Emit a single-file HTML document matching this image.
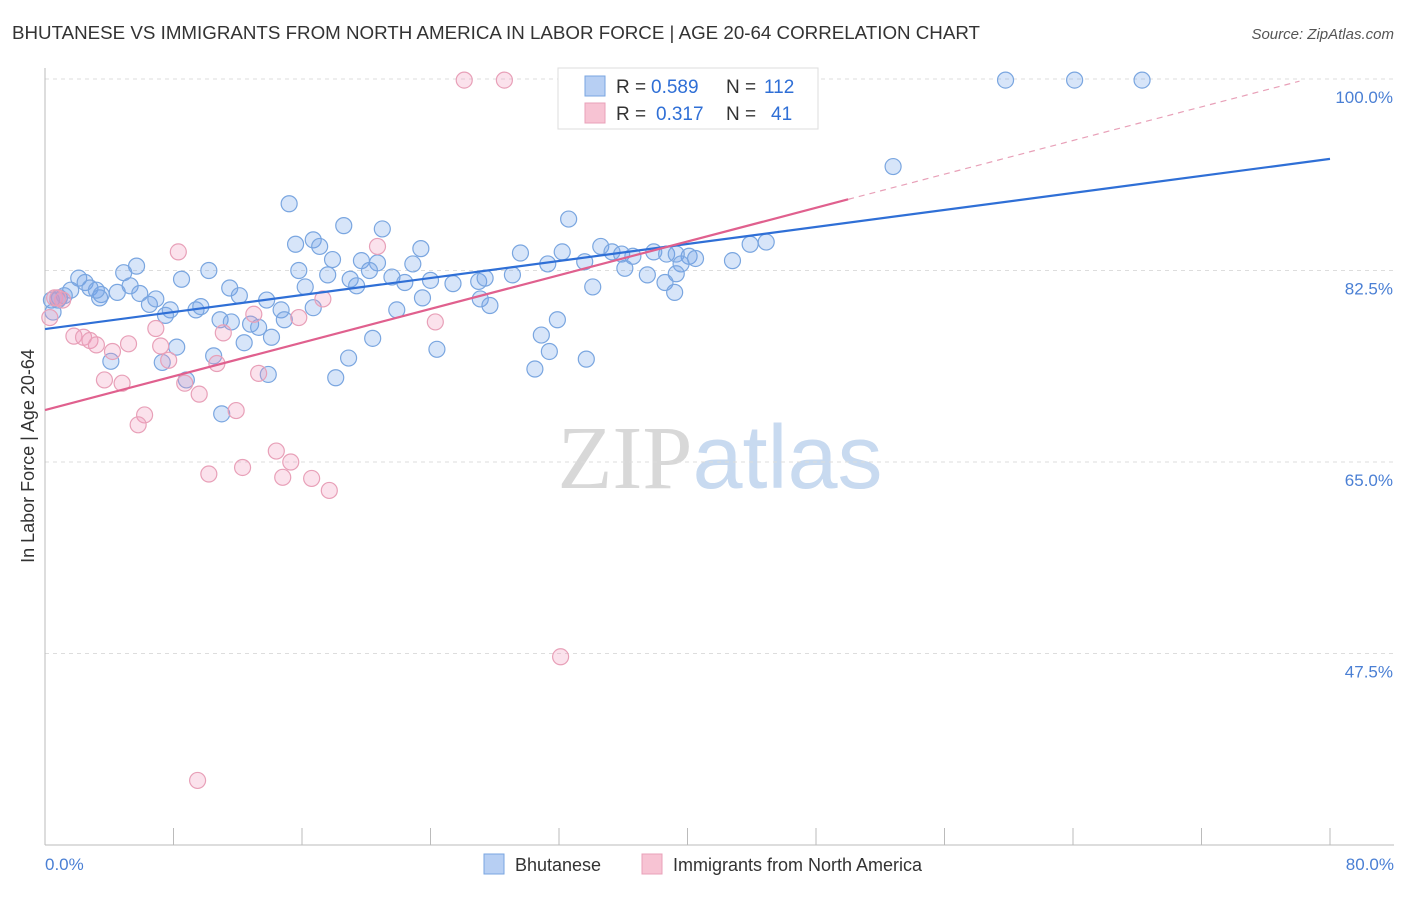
<!DOCTYPE html>
<html><head><meta charset="utf-8">
<style>
body{margin:0;background:#fff;font-family:"Liberation Sans",sans-serif;}
svg text{font-family:"Liberation Sans",sans-serif;}
</style></head>
<body>
<svg id="chart" width="1406" height="892" xmlns="http://www.w3.org/2000/svg">
<text x="12" y="39" font-size="18" fill="#333" textLength="968" lengthAdjust="spacingAndGlyphs">BHUTANESE VS IMMIGRANTS FROM NORTH AMERICA IN LABOR FORCE | AGE 20-64 CORRELATION CHART</text>
<text x="1394" y="39" font-size="15" fill="#555" text-anchor="end" font-style="italic">Source: ZipAtlas.com</text>
<text x="720" y="488" font-size="90" text-anchor="middle"><tspan fill="#d8d8d8" font-family="Liberation Serif">ZIP</tspan><tspan fill="#c8daf0">atlas</tspan></text>
<g id="grid"></g>
<g id="axes"></g>
<g id="marks"></g>
<g id="lines"></g>
<text transform="translate(34,456) rotate(-90)" font-size="18" fill="#333" text-anchor="middle">In Labor Force | Age 20-64</text>
<text x="45" y="870" font-size="17" fill="#4a7fd4">0.0%</text>
<text x="1394" y="870" font-size="17" fill="#4a7fd4" text-anchor="end">80.0%</text>
<g>
<rect x="558" y="68" width="260" height="61" fill="#fff" stroke="#ddd"/>
<rect x="585" y="76" width="20" height="20" fill="#b7cff3" stroke="#7aa6e0"/>
<rect x="585" y="103" width="20" height="20" fill="#f7c3d3" stroke="#e8a0b8"/>
<text x="616" y="93" font-size="19" fill="#333">R =</text>
<text x="651" y="93" font-size="19" fill="#2f6fd6">0.589</text>
<text x="726" y="93" font-size="19" fill="#333">N =</text>
<text x="764" y="93" font-size="19" fill="#2f6fd6">112</text>
<text x="616" y="120" font-size="19" fill="#333">R =</text>
<text x="656" y="120" font-size="19" fill="#2f6fd6">0.317</text>
<text x="726" y="120" font-size="19" fill="#333">N =</text>
<text x="771" y="120" font-size="19" fill="#2f6fd6">41</text>
</g>
<g>
<rect x="484" y="854" width="20" height="20" fill="#b7cff3" stroke="#7aa6e0"/>
<text x="515" y="871" font-size="18" fill="#333">Bhutanese</text>
<rect x="642" y="854" width="20" height="20" fill="#f7c3d3" stroke="#e8a0b8"/>
<text x="673" y="871" font-size="18" fill="#333">Immigrants from North America</text>
</g>
</svg>
<script>
const yTicks=[100,82.5,65,47.5];
const yTickLabels=["100.0%","82.5%","65.0%","47.5%"];
const blueData=[[59.8,99.9],[64.1,99.9],[68.3,99.9],[52.8,92.0],[15.2,88.6],[32.6,87.2],[18.6,86.6],[21.0,86.3],[16.7,85.3],[15.6,84.9],[17.1,84.7],[23.4,84.5],[34.6,84.7],[29.6,84.1],[32.2,84.2],[35.3,84.2],[35.9,84.0],[36.6,83.8],[37.9,84.2],[38.7,84.0],[40.1,83.8],[40.5,83.6],[39.3,84.0],[43.9,84.9],[44.9,85.1],[42.8,83.4],[39.6,83.1],[36.1,82.7],[31.3,83.1],[33.6,83.3],[17.9,83.5],[19.7,83.4],[20.7,83.2],[22.9,83.1],[15.8,82.5],[17.6,82.1],[20.2,82.5],[19.0,81.7],[21.6,81.9],[19.4,81.1],[22.4,81.4],[24.0,81.6],[25.4,81.3],[27.0,81.5],[27.4,81.8],[29.1,82.1],[37.5,82.1],[39.3,82.2],[38.6,81.4],[39.2,80.5],[34.1,81.0],[10.2,82.5],[8.5,81.7],[5.7,82.9],[4.9,82.3],[2.1,81.8],[2.5,81.4],[1.6,80.7],[2.8,80.9],[3.5,80.3],[4.5,80.5],[5.3,81.1],[5.9,80.4],[6.5,79.4],[6.9,79.9],[7.8,78.9],[7.5,78.4],[9.4,78.9],[9.7,79.2],[11.5,80.9],[12.1,80.2],[13.8,79.8],[16.2,81.0],[16.7,79.1],[14.7,78.9],[23.5,80.0],[27.1,79.9],[27.7,79.3],[21.9,78.9],[10.9,78.0],[11.6,77.8],[12.8,77.6],[13.3,77.3],[14.9,78.0],[14.1,76.4],[12.4,75.9],[8.2,75.5],[7.3,74.1],[10.5,74.7],[4.1,74.2],[8.8,72.5],[13.9,73.0],[18.1,72.7],[18.9,74.5],[20.4,76.3],[24.4,75.3],[30.9,76.6],[31.9,78.0],[31.4,75.1],[33.7,74.4],[30.5,73.5],[11.0,69.4],[0.9,80.0],[0.4,79.8],[3.4,80.0],[0.5,78.7],[1.2,80.2],[3.2,80.7],[0.8,79.8]];
const pinkData=[[26.1,99.9],[28.6,99.9],[47.1,99.9],[8.3,84.2],[20.7,84.7],[17.3,79.9],[15.8,78.2],[13.0,78.5],[24.3,77.8],[0.6,80.0],[1.1,79.8],[6.9,77.2],[1.8,76.5],[2.4,76.4],[2.8,76.1],[3.2,75.7],[5.2,75.8],[4.2,75.1],[7.2,75.6],[7.7,74.3],[10.7,74.0],[11.1,76.8],[3.7,72.5],[4.8,72.2],[8.7,72.2],[9.6,71.2],[13.3,73.1],[6.2,69.3],[5.8,68.4],[11.9,69.7],[14.4,66.0],[15.3,65.0],[10.2,63.9],[12.3,64.5],[14.8,63.6],[16.6,63.5],[17.7,62.4],[32.1,47.2],[9.5,35.9],[0.3,78.2],[0.8,80.0]];
const blueTrend=[[0,77.15],[80,92.7]];
const pinkTrend=[[0,69.75],[50,89.0]];
const pinkTrendExt=[[50,89.0],[78.1,99.8]];

const NS="http://www.w3.org/2000/svg";
const xs=v=>45+v/80*1285;
const ys=v=>79+(100-v)/17.5*191.5;
function mk(tag,attrs,parent){const e=document.createElementNS(NS,tag);for(const k in attrs)e.setAttribute(k,attrs[k]);document.getElementById(parent).appendChild(e);return e;}

yTicks.forEach((t,i)=>{
  const g=mk('line',{x1:45,x2:1394,y1:ys(t),y2:ys(t),stroke:'#ddd','stroke-dasharray':'4,4'},'grid');
  
  
  const l=mk('text',{x:1393,y:ys(t)+24,'font-size':17,fill:'#4a7fd4','text-anchor':'end'},'grid');
  l.textContent=yTickLabels[i];
  
  
});
const ax=mk('line',{x1:45,x2:45,y1:68,y2:845,stroke:'#bbb'},'axes');


const bx=mk('line',{x1:45,x2:1394,y1:845,y2:845,stroke:'#bbb'},'axes');


for(let v=0;v<=80;v+=8){
  const t=mk('line',{x1:xs(v),x2:xs(v),y1:828,y2:845,stroke:'#bbb'},'axes');
  
  
}
blueData.forEach(d=>{
  const c=mk('circle',{cx:xs(d[0]),cy:ys(d[1]),r:8,fill:'rgba(110,160,235,0.28)',stroke:'#7aa6e0','stroke-width':1.2},'marks');
  
  
});
pinkData.forEach(d=>{
  const c=mk('circle',{cx:xs(d[0]),cy:ys(d[1]),r:8,fill:'rgba(240,150,185,0.28)',stroke:'#e8a0b8','stroke-width':1.2},'marks');
  
  
});
const bl=mk('line',{x1:xs(blueTrend[0][0]),y1:ys(blueTrend[0][1]),x2:xs(blueTrend[1][0]),y2:ys(blueTrend[1][1]),stroke:'#2f6fd6','stroke-width':2.2},'lines');


const pl=mk('line',{x1:xs(pinkTrend[0][0]),y1:ys(pinkTrend[0][1]),x2:xs(pinkTrend[1][0]),y2:ys(pinkTrend[1][1]),stroke:'#e0608e','stroke-width':2.2},'lines');


const pe=mk('line',{x1:xs(pinkTrendExt[0][0]),y1:ys(pinkTrendExt[0][1]),x2:xs(pinkTrendExt[1][0]),y2:ys(pinkTrendExt[1][1]),stroke:'#e8a0b8','stroke-width':1.2,'stroke-dasharray':'6,5'},'lines');


</script>
</body></html>
